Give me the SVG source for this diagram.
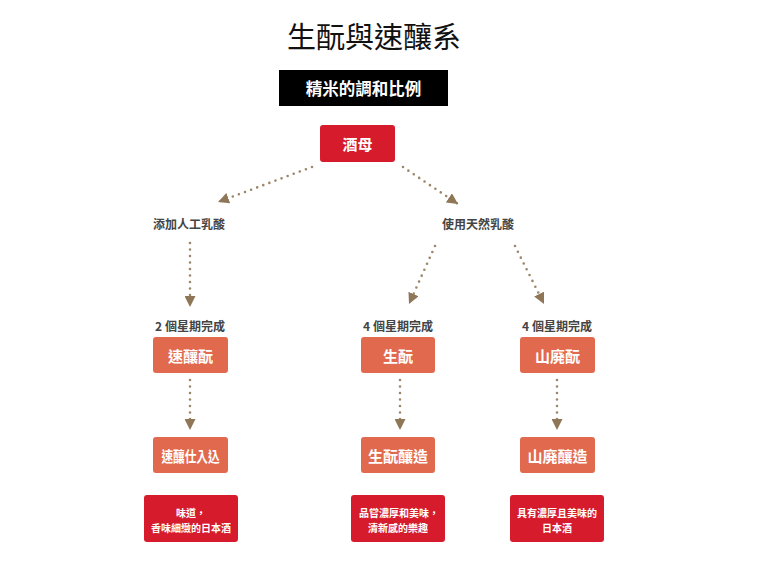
<svg xmlns="http://www.w3.org/2000/svg" width="768" height="574" viewBox="0 0 768 574">
<defs>
<style>
text{font-family:"Noto Sans CJK TC","Noto Sans CJK SC",sans-serif;text-anchor:middle;dominant-baseline:central}
.title{font-size:29px;fill:#111;font-weight:400}
.hdr{font-size:16.5px;fill:#fff;font-weight:700}
.red{fill:#d51b2c}
.coral{fill:#e1694d}
.wt{font-size:15px;fill:#fff;font-weight:700}
.lbl{font-size:12px;fill:#444;font-weight:700}
.sm{font-size:10px;fill:#fff;font-weight:700}
.dot{fill:none;stroke:#9c8669;stroke-width:2.6;stroke-linecap:round;stroke-dasharray:0 6.5}
</style>
<marker id="ah" viewBox="0 0 10 10" refX="10" refY="5" markerUnits="userSpaceOnUse" markerWidth="11" markerHeight="11" orient="auto">
<path d="M0,0 L10,5 L0,10 z" fill="#8e7657"/>
</marker>
</defs>
<rect width="768" height="574" fill="#fff"/>
<g id="title"><text class="title" x="374" y="35">生酛與速釀系</text></g>
<g id="header"><rect x="279" y="70" width="169" height="36" fill="#000"/><text class="hdr" x="363.5" y="88">精米的調和比例</text></g>
<g id="shubo"><rect class="red" x="320" y="125" width="75" height="37" rx="3"/><text class="wt" x="357.5" y="143.5">酒母</text></g>
<g id="label-artificial"><text class="lbl" x="189" y="223">添加人工乳酸</text></g>
<g id="label-natural"><text class="lbl" x="478" y="223">使用天然乳酸</text></g>
<g id="week-left"><text class="lbl" x="190" y="325">2 個星期完成</text></g>
<g id="week-mid"><text class="lbl" x="398" y="325">4 個星期完成</text></g>
<g id="week-right"><text class="lbl" x="557" y="325">4 個星期完成</text></g>
<g id="sokujo"><rect class="coral" x="153" y="337" width="75" height="36" rx="3"/><text class="wt" x="190.5" y="355">速釀酛</text></g>
<g id="kimoto"><rect class="coral" x="361" y="337" width="74" height="36" rx="3"/><text class="wt" x="398" y="355">生酛</text></g>
<g id="yamahai"><rect class="coral" x="520" y="337" width="75" height="36" rx="3"/><text class="wt" x="557.5" y="355">山廃酛</text></g>
<g id="sokujo-shikomi"><rect class="coral" x="153" y="437" width="75" height="36" rx="3"/><text class="wt" x="190.5" y="455" textLength="58" lengthAdjust="spacingAndGlyphs">速釀仕入込</text></g>
<g id="kimoto-brew"><rect class="coral" x="361" y="437" width="74" height="36" rx="3"/><text class="wt" x="398" y="455">生酛釀造</text></g>
<g id="yamahai-brew"><rect class="coral" x="520" y="437" width="75" height="36" rx="3"/><text class="wt" x="557.5" y="455">山廃釀造</text></g>
<g id="desc-left"><rect class="red" x="144" y="495" width="94" height="47" rx="3"/><text class="sm" x="191" y="512">味道，</text><text class="sm" x="191" y="527">香味細緻的日本酒</text></g>
<g id="desc-mid"><rect class="red" x="351" y="495" width="94" height="47" rx="3"/><text class="sm" x="399" y="512">品嘗濃厚和美味，</text><text class="sm" x="398" y="527">清新感的樂趣</text></g>
<g id="desc-right"><rect class="red" x="510" y="495" width="94" height="47" rx="3"/><text class="sm" x="557" y="512">具有濃厚且美味的</text><text class="sm" x="557" y="527">日本酒</text></g>
<g id="connectors">
<path class="dot" d="M312,167 L218,202" marker-end="url(#ah)"/>
<path class="dot" d="M403,167 L458,204" marker-end="url(#ah)"/>
<path class="dot" d="M190,243 L190,307" marker-end="url(#ah)"/>
<path class="dot" d="M435,246 L409,304" marker-end="url(#ah)"/>
<path class="dot" d="M515,246 L544,304" marker-end="url(#ah)"/>
<path class="dot" d="M190,380 L190,430" marker-end="url(#ah)"/>
<path class="dot" d="M400,380 L400,430" marker-end="url(#ah)"/>
<path class="dot" d="M557,380 L557,430" marker-end="url(#ah)"/>
</g>
</svg>
